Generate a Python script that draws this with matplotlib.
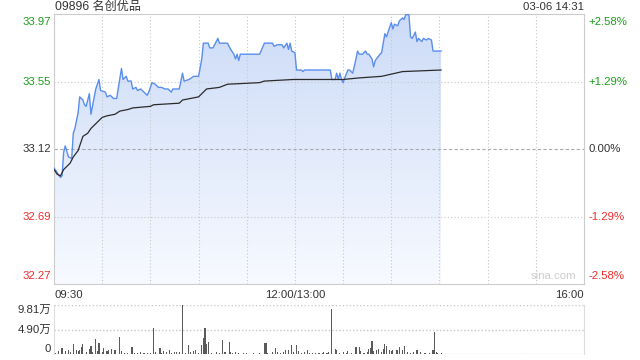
import matplotlib

matplotlib.use("Agg")
import matplotlib.pyplot as plt
import numpy as np
from matplotlib.patches import Polygon

plt.rcParams["font.family"] = ["Liberation Sans", "Noto Sans CJK SC", "DejaVu Sans"]

TITLE = "09896 名创优品"
STAMP = "03-06 14:31"
PRE_CLOSE = 33.12
PCT_LIMIT = 2.58

# trading minutes since 09:30 (lunch break removed), 330 = 16:00
price_min = [0, 2, 4, 5, 6, 7, 9, 11, 12, 13,
             15, 16, 18, 19, 20, 22, 23, 26, 28, 29,
             32, 33, 35, 37, 39, 42, 43, 45, 46, 48,
             49, 51, 52, 54, 56, 58, 59, 61, 63, 65,
             67, 69, 71, 73, 74, 78, 80, 81, 84, 87,
             90, 92, 93, 96, 97, 99, 102, 103, 108, 110,
             112, 113, 114, 115, 116, 128, 131, 136, 137, 139,
             142, 143, 145, 146, 147, 148, 150, 151, 154, 155,
             156, 166, 172, 173, 175, 176, 177, 178, 179, 180,
             181, 183, 184, 186, 188, 189, 190, 192, 194, 195,
             196, 198, 199, 200, 203, 204, 206, 207, 209, 210,
             211, 212, 214, 215, 217, 218, 219, 221, 222, 223,
             225, 226, 227, 229, 230, 232, 233, 235, 236, 241]
price = [33.00, 32.97, 32.94, 32.95, 33.10, 33.14, 33.07, 33.06, 33.22, 33.25,
         33.35, 33.45, 33.43, 33.40, 33.39, 33.47, 33.34, 33.50, 33.56, 33.49,
         33.48, 33.45, 33.46, 33.44, 33.44, 33.63, 33.56, 33.58, 33.55, 33.55,
         33.50, 33.51, 33.49, 33.50, 33.48, 33.46, 33.48, 33.54, 33.53, 33.51,
         33.51, 33.50, 33.50, 33.48, 33.50, 33.50, 33.60, 33.55, 33.56, 33.58,
         33.58, 33.69, 33.79, 33.79, 33.76, 33.76, 33.82, 33.79, 33.79, 33.75,
         33.72, 33.69, 33.72, 33.68, 33.72, 33.72, 33.79, 33.79, 33.77, 33.78,
         33.78, 33.76, 33.79, 33.75, 33.79, 33.74, 33.73, 33.62, 33.62, 33.61,
         33.62, 33.62, 33.62, 33.56, 33.56, 33.60, 33.56, 33.60, 33.56, 33.54,
         33.57, 33.62, 33.62, 33.60, 33.69, 33.74, 33.72, 33.72, 33.74, 33.72,
         33.72, 33.69, 33.64, 33.68, 33.72, 33.73, 33.85, 33.83, 33.89, 33.92,
         33.88, 33.91, 33.90, 33.93, 33.95, 33.94, 33.97, 33.97, 33.83, 33.82,
         33.86, 33.80, 33.82, 33.80, 33.82, 33.81, 33.82, 33.81, 33.74, 33.74]

avg_min = [0, 2, 4, 6, 8, 10, 12, 15, 18, 21, 23, 27, 30, 33, 38, 41, 46, 49,
           60, 62, 78, 80, 90, 92, 95, 103, 108, 128, 131, 149, 166, 180, 190,
           204, 217, 241]
avg_price = [32.99, 32.96, 32.95, 32.99, 33.01, 33.03, 33.07, 33.11, 33.20,
             33.22, 33.25, 33.29, 33.32, 33.33, 33.34, 33.36, 33.37, 33.38,
             33.39, 33.40, 33.41, 33.43, 33.45, 33.47, 33.50, 33.51, 33.53,
             33.54, 33.55, 33.56, 33.56, 33.56, 33.57, 33.58, 33.61, 33.62]

# volume in 万 shares
vol_min = [1, 3, 5, 7, 9, 10, 12, 14, 15, 16,
           17, 18, 20, 22, 23, 24, 26, 27, 28, 30,
           31, 33, 34, 36, 38, 41, 42, 44, 46, 48,
           49, 50, 52, 54, 56, 58, 60, 62, 63, 66,
           67, 68, 70, 72, 73, 75, 76, 78, 80, 82,
           84, 85, 87, 88, 90, 92, 93, 94, 95, 96,
           98, 101, 103, 105, 106, 107, 109, 110, 111, 113,
           115, 118, 120, 124, 128, 131, 132, 133, 136, 138,
           139, 141, 143, 144, 146, 148, 149, 151, 152, 154,
           156, 158, 159, 161, 163, 165, 167, 168, 170, 171,
           173, 175, 176, 178, 180, 182, 183, 185, 188, 190,
           191, 193, 195, 196, 197, 198, 199, 201, 202, 204,
           205, 206, 207, 209, 210, 211, 213, 214, 215, 217,
           218, 220, 222, 224, 226, 228, 231, 234, 236, 237,
           238, 239, 241]
volume = [0.2, 0.5, 1.2, 0.66, 0.86, 0.3, 2.0, 0.86, 0.5, 0.86,
          1.4, 2.0, 0.4, 1.0, 1.65, 0.3, 3.0, 0.5, 2.2, 0.3,
          1.2, 0.5, 0.7, 1.0, 0.86, 3.4, 0.5, 0.2, 0.2, 1.4,
          1.4, 0.2, 0.2, 0.3, 0.2, 0.2, 0.2, 5.2, 0.3, 1.2,
          0.2, 0.5, 0.3, 0.86, 0.2, 0.3, 0.3, 0.3, 9.81, 0.2,
          1.85, 0.3, 0.5, 0.86, 0.2, 1.85, 3.2, 5.2, 2.0, 2.4,
          0.2, 0.46, 0.2, 2.8, 0.3, 0.3, 2.4, 0.3, 0.2, 0.3,
          0.2, 0.2, 0.2, 0.2, 0.2, 2.2, 2.2, 0.2, 0.46, 1.2,
          0.3, 0.2, 0.3, 0.86, 0.7, 1.85, 0.3, 1.85, 0.5, 0.2,
          0.3, 0.86, 0.2, 0.2, 0.2, 0.2, 0.2, 0.3, 0.2, 0.46,
          9.0, 1.0, 0.86, 0.2, 0.3, 0.2, 0.66, 0.2, 1.4, 1.4,
          0.5, 0.2, 0.3, 1.0, 1.1, 2.6, 0.5, 0.86, 1.0, 0.3,
          1.0, 2.0, 1.65, 0.7, 0.5, 0.7, 0.86, 0.7, 1.4, 0.86,
          1.65, 0.3, 0.2, 0.3, 0.86, 0.46, 0.2, 0.2, 0.86, 4.4,
          0.3, 0.2, 0.2]
vol_ticks = [0, 4.90, 9.81]
vol_labels = ["0", "4.90万", "9.81万"]

x_tick_min = [0, 150, 330]
x_tick_labels = ["09:30", "12:00/13:00", "16:00"]

GREEN = "#1a9e1a"
RED = "#ee2b2b"
DARK = "#333333"
GRID = "#c8c8c8"
LINE_BLUE = "#5a8eee"
FS = 8.2

assert len(price_min) == len(price)
assert len(avg_min) == len(avg_price)
assert len(vol_min) == len(volume)

lo = PRE_CLOSE * (1 - PCT_LIMIT / 100)
hi = PRE_CLOSE * (1 + PCT_LIMIT / 100)
levels = np.linspace(lo, hi, 5)
pcts = [-PCT_LIMIT, -PCT_LIMIT / 2, 0.0, PCT_LIMIT / 2, PCT_LIMIT]

fig = plt.figure(figsize=(6.4, 3.6), dpi=100)
ax = fig.add_axes([0.0844, 0.2111, 0.8281, 0.75])
vax = fig.add_axes([0.0844, 0.0167, 0.8281, 0.1361])

ax.set_xlim(0, 330)
ax.set_ylim(lo, hi)

# gradient fill under the price line
grad = np.linspace(0, 1, 256).reshape(-1, 1)
top_rgb = np.array([0.80, 0.86, 0.97])
bot_rgb = np.array([0.97, 0.98, 1.0])
img = top_rgb * (1 - grad[..., None]) + bot_rgb * grad[..., None]
img = img.reshape(256, 1, 3)
im = ax.imshow(img, extent=[0, 330, lo, hi], aspect="auto", origin="upper", zorder=1)
poly_pts = [(price_min[0], lo)] + list(zip(price_min, price)) + [(price_min[-1], lo)]
clip = Polygon(poly_pts, closed=True, facecolor="none", edgecolor="none")
ax.add_patch(clip)
im.set_clip_path(clip)

ax.plot(price_min, price, color=LINE_BLUE, lw=1.0, zorder=4)
ax.plot(avg_min, avg_price, color="#2b2b2b", lw=0.9, zorder=4)

for m in range(30, 330, 30):
    ax.axvline(m, color=GRID, lw=0.8, ls=(0, (1, 2)), zorder=2)
for lv in levels[1:-1]:
    if abs(lv - PRE_CLOSE) < 1e-6:
        ax.axhline(lv, color="#aaaaaa", lw=0.8, ls=(0, (3, 2)), zorder=2)
    else:
        ax.axhline(lv, color=GRID, lw=0.8, ls=(0, (1, 2)), zorder=2)

ax.set_xticks([])
ax.set_yticks([])
for sp in ax.spines.values():
    sp.set_color("#cccccc")

ytr = ax.get_yaxis_transform()
for i, (lv, pc) in enumerate(zip(levels, pcts)):
    col = GREEN if pc > 0 else (RED if pc < 0 else DARK)
    va = "top" if i == 4 else ("bottom" if i == 0 else "center")
    off = -0.012 if i == 4 else (0.012 if i == 0 else 0)
    ax.text(-0.006, lv + off * (hi - lo), f"{lv:.2f}", transform=ytr, ha="right",
            va=va, color=col, fontsize=FS)
    sign = "+" if pc > 0 else ""
    ax.text(1.008, lv + off * (hi - lo), f"{sign}{pc:.2f}%", transform=ytr, ha="left",
            va=va, color=col, fontsize=FS)

xtr = ax.get_xaxis_transform()
aligns = ["left", "center", "right"]
for m, lab, ha in zip(x_tick_min, x_tick_labels, aligns):
    ax.text(m, -0.022, lab, transform=xtr, ha=ha, va="top", color=DARK, fontsize=FS)

ax.text(0.001, 1.026, TITLE, transform=ax.transAxes, ha="left", va="center",
        color=DARK, fontsize=8.7)
ax.text(1, 1.026, STAMP, transform=ax.transAxes, ha="right", va="center",
        color=DARK, fontsize=FS)
ax.text(0.985, 0.012, "sina.com", transform=ax.transAxes, ha="right", va="bottom",
        color="#cccccc", fontsize=FS, zorder=5)

# volume panel
vax.set_xlim(0, 330)
vax.set_ylim(0, vol_ticks[-1])
vax.bar(vol_min, volume, width=0.7, color="#5a5a5a", zorder=3)
for v in vol_ticks:
    vax.axhline(v, color=GRID, lw=1.0, ls=(0, (1, 1.5)), zorder=2)
vax.set_xticks([])
vax.set_yticks([])
for sp in vax.spines.values():
    sp.set_color("#dddddd")
vax.spines["top"].set_visible(False)
vax.spines["bottom"].set_visible(False)
vtr = vax.get_yaxis_transform()
for i, (v, lab) in enumerate(zip(vol_ticks, vol_labels)):
    va = "top" if i == 2 else ("bottom" if i == 0 else "center")
    vax.text(-0.006, v, lab, transform=vtr, ha="right", va=va, color=DARK, fontsize=FS)

fig.savefig("out.png", dpi=100)
